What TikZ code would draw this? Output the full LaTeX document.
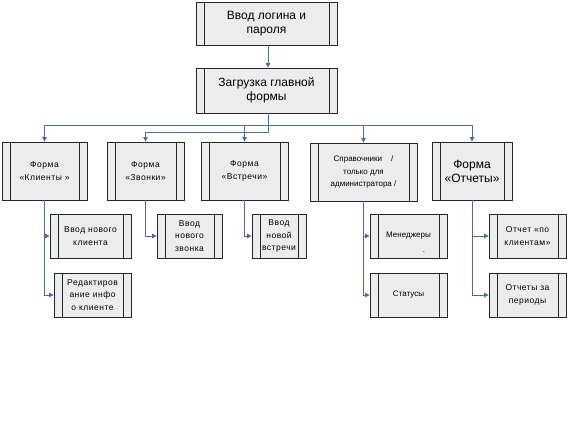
\documentclass[tikz,border=0pt]{standalone}
\usepackage{fontspec}
\setmainfont{Liberation Sans}
\newfontfamily\spacedfont[LetterSpace=6]{Liberation Sans}
\usetikzlibrary{arrows.meta, calc}
\definecolor{linkblue}{RGB}{76,106,166}
\definecolor{boxgray}{RGB}{236,236,236}
\tikzset{
  procbox/.style={draw=black!85, fill=boxgray, line width=0.8pt, align=center, inner sep=1pt,
    font=\spacedfont\fontsize{8.5}{12.5}\selectfont,
    path picture={\draw[black!85, line width=0.7pt]
      ([xshift=8pt]path picture bounding box.north west) -- ([xshift=8pt]path picture bounding box.south west)
      ([xshift=-8pt]path picture bounding box.north east) -- ([xshift=-8pt]path picture bounding box.south east);}},
  plainfont/.style={font=\rmfamily\fontsize{8}{12.5}\selectfont},
  bigfont/.style={font=\rmfamily\fontsize{12}{14}\selectfont},
  wire/.style={-{Triangle[length=4.5pt,width=4.5pt]}, linkblue, line width=0.8pt}
}

\begin{document}
\begin{tikzpicture}[x=1pt, y=-1pt]
        \useasboundingbox (0,0) rectangle (567,435);
        % top of the chart
        \node[procbox, bigfont, minimum width=141pt, minimum height=43pt] (login) at (266.5,23.5) {Ввод логина и\\пароля};
        \node[procbox, bigfont, minimum width=141pt, minimum height=45pt] (mainform) at (266.5,90.5) {Загрузка главной\\формы};
        % forms
        \node[procbox, minimum width=85pt, minimum height=58pt] (clients) at (44.5,171) {Форма\\«Клиенты »};
        \node[procbox, minimum width=77pt, minimum height=58pt] (calls) at (145.5,171) {Форма\\«Звонки»};
        \node[procbox, minimum width=87pt, minimum height=58pt] (meets) at (244.5,171) {Форма\\«Встречи»};
        \node[procbox, plainfont, minimum width=107pt, minimum height=58pt] (refs) at (363.5,172) {Справочники~~~~/\\только для\\администратора /};
        \node[procbox, bigfont, minimum width=80pt, minimum height=58pt] (reports) at (472,171) {Форма\\«Отчеты»};
        % sub-forms
        \node[procbox, minimum width=81pt, minimum height=44pt] (newclient) at (90.5,236) {Ввод нового\\клиента};
        \node[procbox, minimum width=77pt, minimum height=44pt] (editclient) at (92.5,295) {Редактиров\\ание инфо\\о клиенте};
        \node[procbox, minimum width=65pt, minimum height=44pt] (newcall) at (189.5,236) {Ввод\\нового\\звонка};
        \node[procbox, minimum width=54pt, minimum height=44pt] (newmeet) at (279,236) {Ввод\\новой\\встречи};
        \node[procbox, plainfont, minimum width=77pt, minimum height=44pt] (managers) at (408.5,236) {Менеджеры};
        \node[plainfont, inner sep=0pt] (dot) at (424,252) {.};
        \node[procbox, plainfont, minimum width=77pt, minimum height=44pt] (statuses) at (408.5,295) {Статусы};
        \node[procbox, minimum width=77pt, minimum height=44pt] (byclients) at (527.5,236) {Отчет «по\\клиентам»};
        \node[procbox, minimum width=77pt, minimum height=44pt] (periods) at (527.5,295) {Отчеты за\\периоды};
        % connectors
        \coordinate (busup) at (268,125);
        \coordinate (buslow) at (268,132);
        \draw[wire] (login.south -| busup) -- (mainform.north -| busup);
        \draw[wire] (mainform.south -| buslow) -- (buslow) -| (calls.north);
        \draw[wire] (busup) -| (clients.north);
        \draw[wire] (busup) -| (refs.north);
        \draw[wire] (busup) -| (reports.north);
        \draw[wire] (busup -| meets.north) -- (meets.north);
        \draw[wire] (clients.south) |- (newclient.west);
        \draw[wire] (clients.south) |- (editclient.west);
        \draw[wire] (calls.south) |- (newcall.west);
        \draw[wire] (meets.south) |- (newmeet.west);
        \draw[wire] (refs.south) |- (managers.west);
        \draw[wire] (refs.south) |- (statuses.west);
        \draw[wire] (reports.south) |- (byclients.west);
        \draw[wire] (reports.south) |- (periods.west);
      \end{tikzpicture}
\end{document}
